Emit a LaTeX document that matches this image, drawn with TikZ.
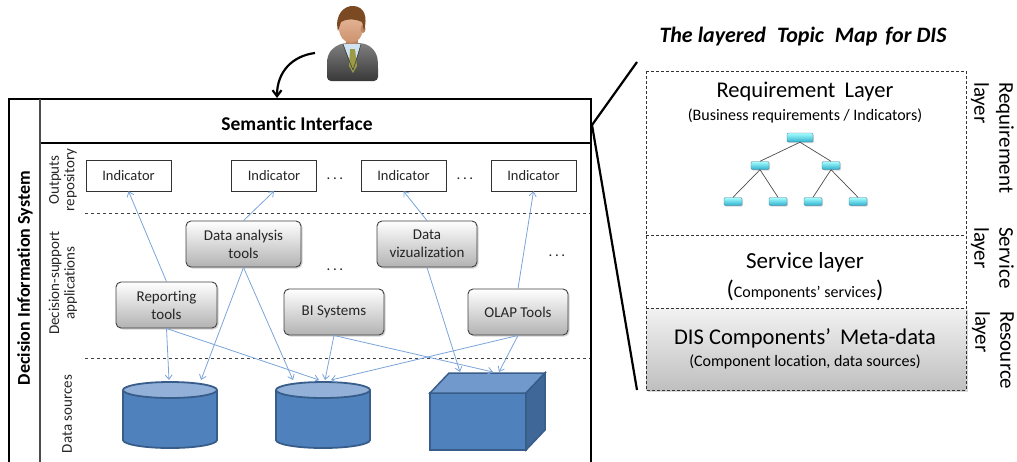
\documentclass[tikz,border=0pt]{standalone}
\usepackage{fontspec}
\setmainfont{Carlito}[Ligatures=NoCommon]
\usetikzlibrary{arrows.meta,shadows}

\definecolor{linkblue}{HTML}{7BA4D9}
\definecolor{dbfill}{HTML}{4F81BD}
\definecolor{dbedge}{HTML}{385D8A}
\definecolor{dbtop}{HTML}{93B1D8}
\definecolor{cubetop}{HTML}{7199CC}
\definecolor{cubeside}{HTML}{3F6899}
\definecolor{treecyan}{HTML}{2FB0CF}
\definecolor{skin}{HTML}{E2A27A}
\definecolor{hair}{HTML}{7B4A22}
\definecolor{shirt}{HTML}{CFE4F3}
\definecolor{tie}{HTML}{9C9A45}

\newcommand{\pxfont}[2]{\fontsize{#1}{#2}\selectfont}

\begin{document}
\begin{tikzpicture}[x=1pt, y=-1pt,
    indicator/.style ={draw=black!80, minimum width=85, minimum height=31, inner sep=0,
        font=\pxfont{14.5}{17}, text=black!85},
    application/.style ={draw=black!75, line width=0.9, rounded corners=5, top color=white,
        bottom color=black!30, minimum height=46, inner sep=0, align=center,
        font=\pxfont{15}{18}, text=black!85,
        drop shadow={shadow xshift=1.5pt, shadow yshift=-1.5pt, opacity=0.35}},
    link/.style ={draw=linkblue, line width=0.8, -{Straight Barb[length=4.5pt, width=7pt]}},
    dots/.style ={anchor=base, inner sep=0, font=\pxfont{15}{15}, text=black!85},
    sidelabel/.style ={rotate=90, align=center, inner sep=0, font=\pxfont{15}{15.5}, text=black!85},
    layerlabel/.style ={rotate=-90, anchor=north west, inner sep=0, align=left, font=\pxfont{21}{25}},
    layertitle/.style ={inner sep=0, font=\pxfont{22.5}{26}},
    layernote/.style ={inner sep=0, font=\pxfont{16}{18}},
    treenode/.style ={draw=cyan!50!black, rounded corners=1.2, top color=cyan!35, bottom color=treecyan,
        minimum width=18, minimum height=8, inner sep=0,
        drop shadow={shadow xshift=1pt, shadow yshift=-1pt, opacity=0.3}},
    treeedge/.style ={draw=black!70, line width=0.7},
    layerbox/.style ={draw=black!80, dash pattern=on 3pt off 2pt, line width=0.7},
    separator/.style ={draw=black!75, dash pattern=on 3pt off 3pt, line width=0.8},
    frame/.style ={draw=black, line width=2.2},
    zoomline/.style ={draw=black, line width=2.2}]

  \useasboundingbox (0,0) rectangle (1017,461);
  \clip (0,0) rectangle (1017,461);

  %% user
  \node[minimum width=52, minimum height=74, inner sep=0] (user) at (353,44) {};
  \shade[top color=black!50, bottom color=black!78, rounded corners=4]
    (327,81) -- (327,64) .. controls (328,51) and (335,46) .. (344,43) -- (362,43)
    .. controls (371,46) and (377,52) .. (378,64) -- (378,81) -- cycle;
  \fill[skin!80!black] (346,38) rectangle (358,47);
  \fill[shirt] (343,44) -- (361,44) -- (353,68) -- cycle;
  \fill[tie] (350,49) -- (355,49) -- (357,66) -- (353,73) -- (349,66) -- cycle;
  \draw[black!75, line width=0.6] (343,44) -- (348,58) -- (353,70);
  \draw[black!75, line width=0.6] (361,44) -- (357,58) -- (353,70);
  \shade[top color=skin!75, bottom color=skin!90!black] (351,28) ellipse[x radius=12pt, y radius=15pt];
  \fill[skin!85!black] (363,29) ellipse[x radius=2.5pt, y radius=4pt];
  \fill[hair] (338,31) .. controls (334,14) and (345,5) .. (354,6)
    .. controls (364,7) and (368,16) .. (364,31) -- (362,22)
    .. controls (356,19) and (347,18) .. (341,22) -- cycle;

  %% left panel: decision information system
  \draw[frame] (9,475) -- (9,99) -- (591,99) -- (591,475);
  \draw[frame] (40,143) -- (591,143);
  \draw[black!70, line width=1.2] (40,99) -- (40,475);
  \node[font=\bfseries\pxfont{19.5}{22}] (semantic) at (297,124) {Semantic Interface};
  \node[rotate=90, font=\bfseries\pxfont{18}{20}] (dis) at (25,278) {Decision Information System};

  \coordinate (userarm) at (315,53);
  \coordinate (entry) at (277,98);
  \draw[line width=2.2, -{Straight Barb[length=6pt, width=9pt]}]
    (userarm) .. controls (292,56) and (277,72) .. (entry);

  \node[sidelabel] (outputs) at (63,180) {Outputs\\repository};
  \node[sidelabel] (apps) at (63,283) {Decision-support\\applications};
  \node[sidelabel] (sources) at (67,414) {Data sources};

  \draw[separator] (85,213) -- (590,213);
  \draw[separator] (85,358) -- (590,358);

  \node[indicator] (ind1) at (128.5,175.5) {Indicator};
  \node[indicator] (ind2) at (274,175.5)   {Indicator};
  \node[indicator] (ind3) at (403.5,175.5) {Indicator};
  \node[indicator] (ind4) at (533.5,175.5) {Indicator};
  \node[dots] (dots1) at (335,179) {.\hspace{2.6pt}.\hspace{2.6pt}.};
  \node[dots] (dots2) at (465,179) {.\hspace{2.6pt}.\hspace{2.6pt}.};

  \node[application, minimum width=115] (da)   at (243.5,244) {Data analysis\\tools};
  \node[application, minimum width=100] (dv)   at (427,244)   {Data\\vizualization};
  \node[application, minimum width=101] (rep)  at (166.5,305) {Reporting\\tools};
  \node[application, minimum width=100] (bi)   at (334,312)   {BI Systems};
  \node[application, minimum width=100] (olap) at (518,312)   {OLAP Tools};
  \node[dots] (dots3) at (335,270) {.\hspace{2.6pt}.\hspace{2.6pt}.};
  \node[dots] (dots4) at (557,256) {.\hspace{2.6pt}.\hspace{2.6pt}.};

  %% data sources
  \foreach \cx/\nm in {170/db1, 323/db2} {
    \fill[dbfill] (\cx-47,390) -- (\cx-47,440)
      arc[start angle=180, end angle=360, x radius=47pt, y radius=8pt] -- (\cx+47,390) -- cycle;
    \draw[dbedge, line width=1.8] (\cx-47,390) -- (\cx-47,440)
      arc[start angle=180, end angle=360, x radius=47pt, y radius=8pt] -- (\cx+47,390);
    \filldraw[fill=dbtop, draw=dbedge, line width=1.8] (\cx,390) ellipse[x radius=47pt, y radius=8pt];
    \coordinate (\nm) at (\cx,380);
  }
  \filldraw[fill=dbfill, draw=dbedge, line width=1.5] (430,393) rectangle (526,450);
  \filldraw[fill=cubetop, draw=dbedge, line width=1.5] (430,393) -- (449,373) -- (545,373) -- (526,393) -- cycle;
  \filldraw[fill=cubeside, draw=dbedge, line width=1.5] (526,393) -- (545,373) -- (545,430) -- (526,450) -- cycle;
  \coordinate (cube) at (495,372);

  %% links
  \draw[link] (rep.north) -- (ind1.south);
  \draw[link] (da.north) -- (ind2.south);
  \draw[link] (dv.north) -- (ind3.south);
  \draw[link] (olap.north) -- (ind4.south);
  \draw[link] (rep.south) -- ([xshift=-1]db1);
  \draw[link] (rep.south) -- ([xshift=-4]db2);
  \draw[link] (da.south) -- ([xshift=31]db1);
  \draw[link] (da.south) -- ([xshift=-30]db2);
  \draw[link] (bi.south) -- ([xshift=2]db2);
  \draw[link] (bi.south) -- ([xshift=-2]cube);
  \draw[link] (olap.south) -- ([xshift=8]db2);
  \draw[link] (olap.south) -- ([xshift=4]cube);
  \draw[link] (dv.south) -- ([xshift=-35]cube);

  %% right panel: layered topic map
  \coordinate (zoomfrom) at (592,125);
  \coordinate (zoomtop) at (637,62);
  \coordinate (zoombot) at (637,390);
  \draw[zoomline] (zoomfrom) -- (zoomtop);
  \draw[zoomline] (zoomfrom) -- (zoombot);

  \node[font=\bfseries\itshape\pxfont{22}{24}] (title) at (803,37)
    {The layered\hspace{6pt} Topic\hspace{6pt} Map\hspace{3pt} for DIS};

  \fill[top color=black!5, bottom color=black!25,
    drop shadow={shadow xshift=1.5pt, shadow yshift=-1.5pt, opacity=0.3}] (646,308) rectangle (966,390);
  \draw[layerbox] (646,71) rectangle (966,390);
  \draw[layerbox] (646,235) -- (966,235);
  \draw[layerbox] (646,308) -- (966,308);

  \node[layertitle] (req) at (805,92) {Requirement\hspace{4pt} Layer};
  \node[layernote] (reqnote) at (805,116) {(Business requirements / Indicators)};
  \node[layertitle, font=\pxfont{23}{26}] (srv) at (805,262) {Service layer};
  \node[layernote] (srvnote) at (805,290)
    {{\pxfont{24}{26}(}Components’ services{\pxfont{24}{26})}};
  \node[layertitle] (meta) at (805,338) {DIS Components’\hspace{4pt} Meta-data};
  \node[layernote] (metanote) at (805,362) {(Component location, data sources)};

  \node[treenode, minimum width=26, minimum height=9] (root) at (800,137.5) {};
  \node[treenode] (mid1) at (760,165.5) {};
  \node[treenode] (mid2) at (831,165.5) {};
  \node[treenode] (leaf1) at (733,201.5) {};
  \node[treenode] (leaf2) at (778,201.5) {};
  \node[treenode] (leaf3) at (813,201.5) {};
  \node[treenode] (leaf4) at (858,201.5) {};
  \draw[treeedge] (root.south) -- (mid1.north);
  \draw[treeedge] (root.south) -- (mid2.north);
  \draw[treeedge] (mid1.south) -- (leaf1.north);
  \draw[treeedge] (mid1.south) -- (leaf2.north);
  \draw[treeedge] (mid2.south) -- (leaf3.north);
  \draw[treeedge] (mid2.south) -- (leaf4.north);

  \node[layerlabel] (reqside) at (1014,82) {Requirement\\layer};
  \node[layerlabel] (srvside) at (1014,227) {Service\\layer};
  \node[layerlabel] (ressside) at (1014,311) {Resource\\layer};
\end{tikzpicture}
\end{document}
